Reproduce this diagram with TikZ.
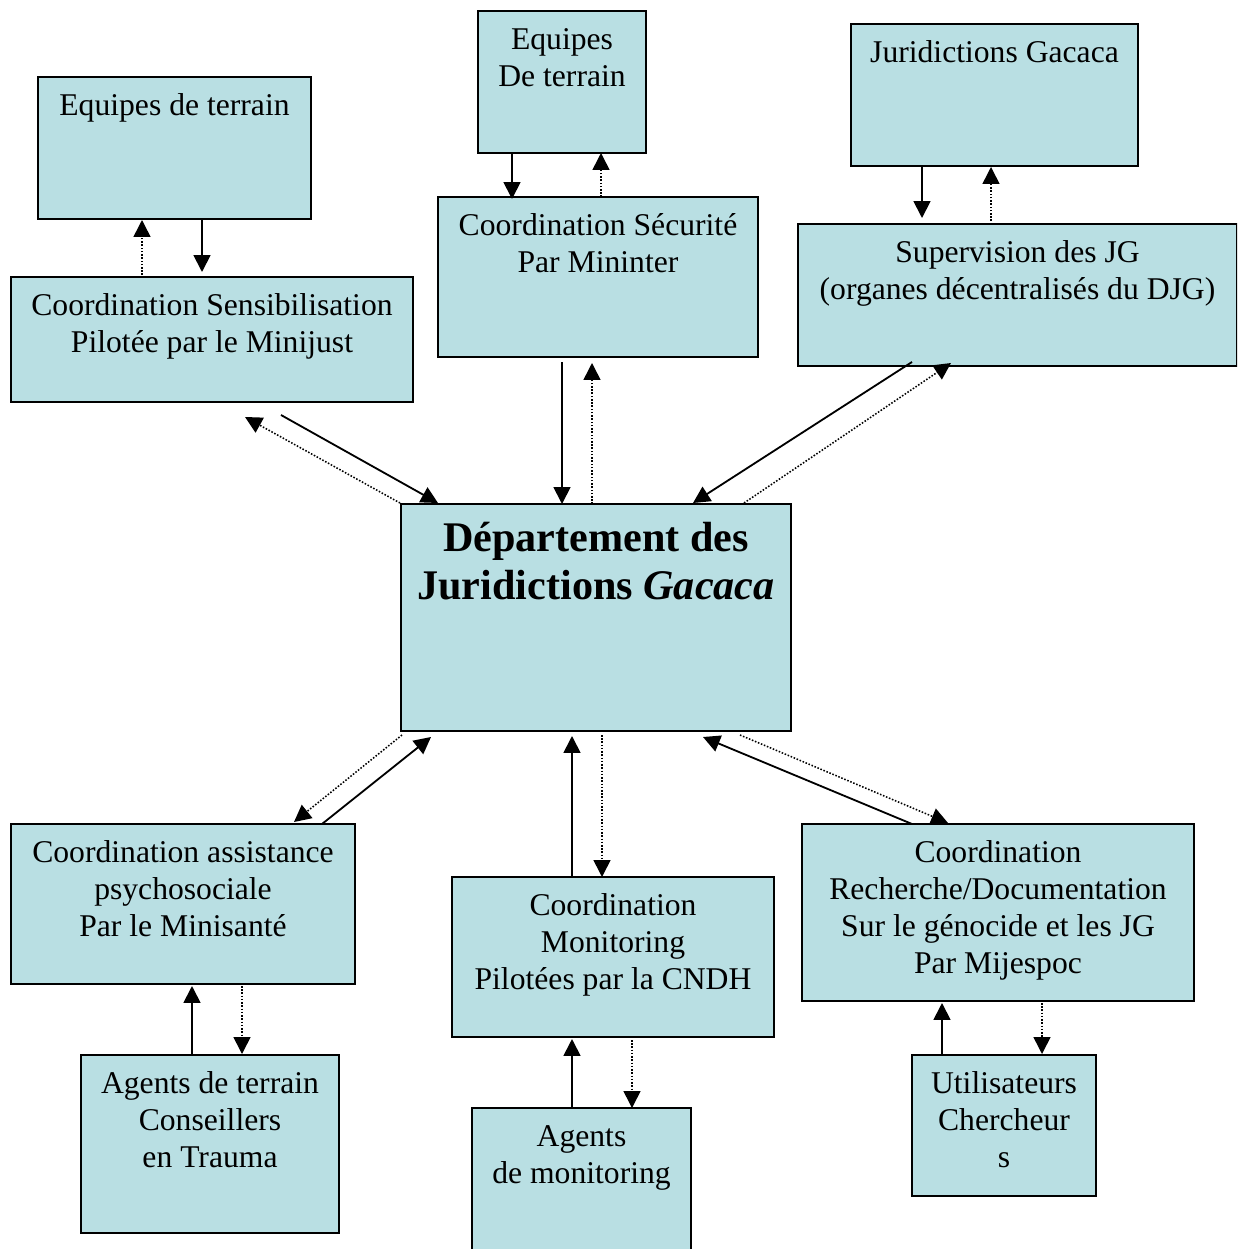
\documentclass[tikz,border=0pt]{standalone}
\usepackage{fontspec}
\setmainfont{Liberation Serif}
\usetikzlibrary{arrows.meta,fit,calc}
\definecolor{boxfill}{RGB}{185,223,227}
\tikzset{
  box/.style={draw=black, fill=boxfill, line width=1.3pt, inner sep=0pt, outer sep=0pt},
  txt/.style={anchor=north, align=center, inner sep=0pt, font=\fontsize{22.5pt}{26.3pt}\selectfont},
  bigtxt/.style={anchor=north, align=center, inner sep=0pt, font=\fontsize{30pt}{34pt}\selectfont\bfseries},
  sarr/.style={line width=1.3pt, -{Triangle[length=12pt,width=12pt]}},
  darr/.style={line width=1.1pt, dash pattern=on 1.1pt off 1.2pt, -{Triangle[length=12pt,width=12pt]}}
}
\begin{document}
\begin{tikzpicture}[x=0.025cm, y=-0.025cm]
\useasboundingbox (0,0) rectangle (1237,1249);
\fill[white] (0,0) rectangle (1237,1249);
\clip (0,0) rectangle (1237,1249);
% boxes
\node[box, fit={(38,77)(311,219)}] (b1) {};
\node[box, fit={(478,11)(646,153)}] (b2) {};
\node[box, fit={(851,24)(1138,166)}] (b3) {};
\node[box, fit={(11,277)(413,402)}] (b4) {};
\node[box, fit={(438,197)(758,357)}] (b5) {};
\node[box, fit={(798,224)(1237,366)}] (b6) {};
\node[box, fit={(401,504)(791,731)}] (b7) {};
\node[box, fit={(11,824)(355,984)}] (b8) {};
\node[box, fit={(452,877)(774,1037)}] (b9) {};
\node[box, fit={(802,824)(1194,1001)}] (b10) {};
\node[box, fit={(81,1055)(339,1233)}] (b11) {};
\node[box, fit={(472,1108)(691,1262)}] (b12) {};
\node[box, fit={(912,1055)(1096,1196)}] (b13) {};
% texts
\node[txt] (t1) at ($(b1.north)+(0,12)$) {\strut Equipes de terrain};
\node[txt] (t2) at ($(b2.north)+(0,12)$) {\strut Equipes\\De terrain};
\node[txt] (t3) at ($(b3.north)+(0,12)$) {\strut Juridictions Gacaca};
\node[txt] (t4) at ($(b4.north)+(0,12)$) {\strut Coordination Sensibilisation\\Pilotée par le Minijust};
\node[txt] (t5) at ($(b5.north)+(0,12)$) {\strut Coordination Sécurité\\Par Mininter};
\node[txt] (t6) at ($(b6.north)+(0,12)$) {\strut Supervision des JG\\(organes décentralisés du DJG)};
\node[bigtxt] (t7) at ($(b7.north)+(0,14)$) {\strut Département des\\Juridictions \textit{Gacaca}};
\node[txt] (t8) at ($(b8.north)+(0,12)$) {\strut Coordination assistance\\psychosociale\\Par le Minisanté};
\node[txt] (t9) at ($(b9.north)+(0,12)$) {\strut Coordination\\Monitoring\\Pilotées par la CNDH};
\node[txt] (t10) at ($(b10.north)+(0,12)$) {\strut Coordination\\Recherche/Documentation\\Sur le génocide et les JG\\Par Mijespoc};
\node[txt] (t11) at ($(b11.north)+(0,12)$) {\strut Agents de terrain\\Conseillers\\en Trauma};
\node[txt] (t12) at ($(b12.north)+(0,12)$) {\strut Agents\\de monitoring};
\node[txt] (t13) at ($(b13.north)+(0,12)$) {\strut Utilisateurs\\Chercheur\\s};
% connectors
\draw[sarr] ($(b1.south west)+(164,0)$) -- ($(b4.north west)+(191,-5)$);
\draw[darr] ($(b4.north west)+(131,-2)$) -- ($(b1.south west)+(104,1)$);
\draw[sarr] ($(b2.south west)+(34,0)$) -- ($(b5.north west)+(74,2)$);
\draw[darr] ($(b5.north west)+(163,0)$) -- ($(b2.south west)+(123,0)$);
\draw[sarr] ($(b3.south west)+(71,0)$) -- ($(b6.north west)+(124,-6)$);
\draw[darr] ($(b6.north west)+(193,-3)$) -- ($(b3.south west)+(140,1)$);
\draw[sarr] ($(b4.south west)+(270,13)$) -- ($(b7.north west)+(37,-1)$);
\draw[darr] ($(b7.north west)+(-1,-1)$) -- ($(b4.south west)+(234,15)$);
\draw[sarr] ($(b5.south west)+(124,5)$) -- ($(b7.north west)+(161,0)$);
\draw[darr] ($(b7.north west)+(191,0)$) -- ($(b5.south west)+(154,6)$);
\draw[sarr] ($(b6.south west)+(114,-4)$) -- ($(b7.north west)+(292,-1)$);
\draw[darr] ($(b7.north west)+(343,-1)$) -- ($(b6.south west)+(153,-3)$);
\draw[darr] ($(b7.south west)+(1,4)$) -- ($(b8.north west)+(283,-2)$);
\draw[sarr] ($(b8.north west)+(311,0)$) -- ($(b7.south west)+(30,6)$);
\draw[sarr] ($(b9.north west)+(120,0)$) -- ($(b7.south west)+(171,5)$);
\draw[darr] ($(b7.south west)+(201,4)$) -- ($(b9.north west)+(150,0)$);
\draw[sarr] ($(b10.north west)+(110,0)$) -- ($(b7.south west)+(302,6)$);
\draw[darr] ($(b7.south west)+(339,4)$) -- ($(b10.north west)+(146,-1)$);
\draw[sarr] ($(b11.north west)+(111,0)$) -- ($(b8.south west)+(181,2)$);
\draw[darr] ($(b8.south west)+(231,2)$) -- ($(b11.north west)+(161,-1)$);
\draw[sarr] ($(b12.north west)+(100,0)$) -- ($(b9.south west)+(120,2)$);
\draw[darr] ($(b9.south west)+(180,3)$) -- ($(b12.north west)+(160,0)$);
\draw[sarr] ($(b13.north west)+(30,0)$) -- ($(b10.south west)+(140,2)$);
\draw[darr] ($(b10.south west)+(240,2)$) -- ($(b13.north west)+(130,-1)$);
\end{tikzpicture}
\end{document}
